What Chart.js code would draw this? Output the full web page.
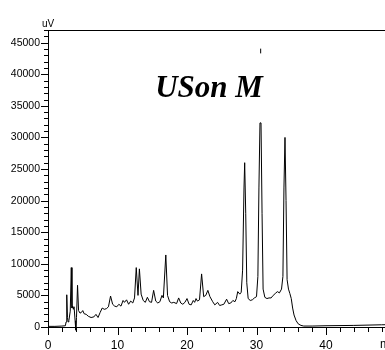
<!DOCTYPE html>
<html>
<head>
<meta charset="utf-8">
<script src="https://cdn.jsdelivr.net/npm/chart.js@4/dist/chart.umd.min.js"></script>
<style>
html,body{margin:0;padding:0;background:#fff;overflow:hidden;width:385px;height:350px;}
canvas{display:block;}
</style>
</head>
<body>
<canvas id="c" width="410" height="350"></canvas>
<script>
// Retention time (min)
const times = [0,1,2,2.5,2.6,2.7,2.8,2.9,3.0,3.2,3.35,3.45,3.55,3.65,3.75,3.9,4.0,4.1,4.25,4.4,4.6,4.8,5.0,5.2,5.5,5.8,6.2,6.6,6.9,7.2,7.5,7.8,8.1,8.4,8.7,9.0,9.3,9.6,9.9,10.2,10.5,10.8,11.0,11.3,11.6,11.9,12.2,12.45,12.7,12.95,13.15,13.4,13.7,14.0,14.3,14.6,14.9,15.2,15.5,15.8,16.1,16.4,16.6,16.95,17.2,17.5,17.8,18.1,18.5,18.8,19.1,19.4,19.7,20.0,20.3,20.6,20.9,21.1,21.3,21.5,21.8,22.1,22.4,22.7,23.0,23.3,23.7,24.0,24.4,24.7,25.0,25.3,25.7,26.0,26.3,26.6,26.9,27.1,27.3,27.6,27.8,28.0,28.2,28.3,28.45,28.6,28.8,29.1,29.4,29.7,30.0,30.2,30.35,30.5,30.65,30.8,30.95,31.2,31.5,31.8,32.1,32.4,32.7,33.0,33.3,33.6,33.8,33.95,34.1,34.25,34.4,34.6,34.8,35.0,35.2,35.4,35.7,36.0,36.4,36.8,38,40,44,48,50];
// Detector signal (uV)
const signal = [100,100,150,200,800,5100,1500,800,1000,2500,9400,3000,3300,2800,3200,1000,-500,1500,6600,2600,2200,2300,2600,2100,2000,1700,1500,1600,2000,1500,2300,3000,2800,2900,3200,4900,3600,3300,3200,3600,3300,4200,3900,4300,3600,4100,3800,4600,9400,5000,9200,5200,4200,3900,4700,4000,3900,5800,4100,3800,4000,5000,4600,11400,5000,4000,3800,3900,3700,4600,3800,3600,3900,4500,3600,3500,4200,3900,4500,4100,4300,8400,4800,5000,5800,4800,4000,3500,3900,3400,3500,3600,4400,3700,3800,4200,4000,4500,5600,5200,5500,9000,22000,26000,18000,7000,4500,4200,4300,4600,4800,8000,22000,32300,32300,18000,6000,4700,4500,4600,4600,5000,5300,5600,5400,6000,8000,22000,30000,20000,7500,6000,5300,4500,3000,1900,1000,500,250,150,150,200,250,350,400];
// Peak marker
const markerTimes = [30.6, 30.6];
const markerValues = [43300, 44050];

const xTickLabels = [0,10,20,30,40,50];
const yTickLabels = [0,5000,10000,15000,20000,25000,30000,35000,40000,45000];
const titleText = 'USon M';
const yUnit = 'uV';
const xUnit = 'min';

const labelFont = "'Liberation Sans Narrow', 'Arial Narrow', 'Liberation Sans', Arial, sans-serif";

const decor = {
  id: 'decor',
  afterDraw(chart) {
    const ctx = chart.ctx, a = chart.chartArea;
    const xs = chart.scales.x, ys = chart.scales.y;
    ctx.save();
    ctx.strokeStyle = '#000';
    ctx.lineWidth = 1;
    // top frame line
    ctx.beginPath();
    ctx.moveTo(a.left, Math.round(a.top) + 0.5);
    ctx.lineTo(a.right, Math.round(a.top) + 0.5);
    ctx.stroke();
    // x ticks
    ctx.beginPath();
    for (let v = xs.min; v <= xs.max + 1e-9; v += 2) {
      const px = Math.round(xs.getPixelForValue(v)) + 0.5;
      const len = (Math.round(v) % 10 === 0) ? 8 : 5;
      ctx.moveTo(px, a.bottom);
      ctx.lineTo(px, a.bottom + len);
    }
    // y ticks
    for (let v = 0; v <= ys.max + 1e-9; v += 1000) {
      const py = Math.round(ys.getPixelForValue(v)) + 0.5;
      const len = (v % 5000 === 0) ? 7 : 4;
      ctx.moveTo(a.left, py);
      ctx.lineTo(a.left - len, py);
    }
    ctx.stroke();
    // units
    ctx.fillStyle = '#000';
    ctx.font = "10px " + labelFont;
    ctx.textAlign = 'center';
    ctx.textBaseline = 'alphabetic';
    ctx.fillText(yUnit, a.left, a.top - 3);
    ctx.font = "12px " + labelFont;
    ctx.textAlign = 'left';
    ctx.fillText(xUnit, 380, 348);
    // title
    ctx.font = "italic bold 31px 'Liberation Serif', 'Times New Roman', serif";
    ctx.textAlign = 'center';
    ctx.fillText(titleText, 209, 97);
    ctx.restore();
  }
};

new Chart(document.getElementById('c'), {
  type: 'line',
  data: {
    datasets: [
      {
        data: times.map((t, i) => ({x: t, y: signal[i]})),
        borderColor: '#000',
        borderWidth: 1,
        pointRadius: 0,
        tension: 0,
        fill: false,
        clip: false
      },
      {
        data: markerTimes.map((t, i) => ({x: t, y: markerValues[i]})),
        borderColor: '#000',
        borderWidth: 1,
        pointRadius: 0,
        fill: false
      }
    ]
  },
  options: {
    responsive: false,
    animation: false,
    devicePixelRatio: 1,
    layout: {padding: {left: 0, right: 14.5, top: 30, bottom: 0}},
    plugins: {legend: {display: false}, tooltip: {enabled: false}, title: {display: false}},
    scales: {
      x: {
        type: 'linear',
        min: 0, max: 50,
        afterFit(s) { s.height = 23; },
        afterBuildTicks(s) { s.ticks = xTickLabels.map(v => ({value: v})); },
        grid: {display: false, drawTicks: true, tickLength: 8},
        border: {display: true, color: '#000', width: 1},
        ticks: {
          padding: 3, maxRotation: 0, autoSkip: false,
          color: '#000', font: {family: labelFont, size: 12}
        }
      },
      y: {
        type: 'linear',
        min: 0, max: 47000,
        afterFit(s) { s.width = 48; },
        afterBuildTicks(s) { s.ticks = yTickLabels.map(v => ({value: v})); },
        grid: {display: false, drawTicks: true, tickLength: 7},
        border: {display: true, color: '#000', width: 1},
        ticks: {
          padding: 1, autoSkip: false,
          color: '#000', font: {family: labelFont, size: 10.5},
          callback: (v) => String(v)
        }
      }
    }
  },
  plugins: [decor]
});
</script>
</body>
</html>
